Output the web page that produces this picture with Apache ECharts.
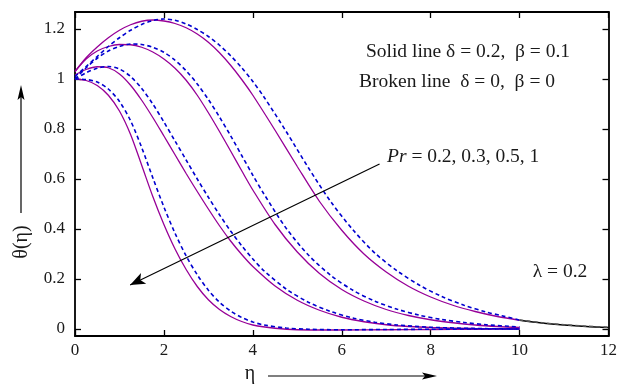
<!DOCTYPE html>
<html>
<head>
<meta charset="utf-8">
<script src="https://cdn.jsdelivr.net/npm/echarts@6/dist/echarts.min.js"></script>
<style>
html,body{margin:0;padding:0;background:#fff;}
#c{width:620px;height:385px;}
</style>
</head>
<body>
<div id="c"></div>
<script>
// ---- data ----
const xTicks = [0, 2, 4, 6, 8, 10, 12];
const yTicks = [0, 0.2, 0.4, 0.6, 0.8, 1, 1.2];

// Pr = 0.2
const prA_solid_x = [0, 0.25, 0.5, 0.75, 1.0, 1.25, 1.5, 1.75, 2.0, 2.25, 2.5, 2.75, 3.0, 3.25, 3.5, 3.75, 4.0, 4.5, 5.0, 5.5, 6.0, 6.5, 7.0, 7.5, 8.0, 8.5, 9.0, 9.5, 10];
const prA_solid_y = [1.03, 1.085, 1.128, 1.165, 1.195, 1.217, 1.231, 1.236, 1.232, 1.222, 1.205, 1.18, 1.147, 1.105, 1.055, 0.998, 0.935, 0.795, 0.65, 0.51, 0.395, 0.30, 0.228, 0.171, 0.128, 0.095, 0.07, 0.05, 0.035];
const prA_dash_x = [0, 0.25, 0.5, 0.75, 1.0, 1.25, 1.5, 1.75, 2.0, 2.25, 2.5, 2.75, 3.0, 3.25, 3.5, 3.75, 4.0, 4.25, 4.75, 5.25, 5.75, 6.25, 6.75, 7.25, 7.75, 8.25, 8.75, 9.25, 9.6, 10];
const prA_dash_y = [1.01, 1.05, 1.09, 1.13, 1.165, 1.195, 1.218, 1.234, 1.24, 1.235, 1.22, 1.198, 1.17, 1.135, 1.093, 1.045, 0.99, 0.928, 0.79, 0.645, 0.51, 0.397, 0.303, 0.232, 0.175, 0.13, 0.095, 0.068, 0.053, 0.036];
const tail_x = [10, 10.5, 11, 11.5, 12];
const tail_solid_y = [0.035, 0.024, 0.016, 0.01, 0.006];
const tail_dash_y = [0.036, 0.025, 0.017, 0.011, 0.007];

// Pr = 0.3
const prB_solid_x = [0, 0.25, 0.5, 0.75, 1.0, 1.25, 1.5, 1.75, 2.0, 2.25, 2.5, 2.75, 3.0, 3.25, 3.5, 3.75, 4.0, 4.5, 5.0, 5.5, 6.0, 6.5, 7.0, 7.5, 8.0, 8.5, 9.0, 9.5, 10];
const prB_solid_y = [1.03, 1.08, 1.112, 1.13, 1.138, 1.137, 1.127, 1.108, 1.08, 1.043, 0.995, 0.935, 0.865, 0.79, 0.712, 0.633, 0.556, 0.418, 0.308, 0.222, 0.158, 0.112, 0.078, 0.054, 0.037, 0.025, 0.016, 0.01, 0.006];
const prB_dash_x = [0, 0.25, 0.5, 0.75, 1.0, 1.25, 1.5, 1.75, 2.0, 2.25, 2.5, 2.75, 3.0, 3.25, 3.5, 3.75, 4.0, 4.25, 4.75, 5.25, 5.75, 6.25, 6.75, 7.25, 7.75, 8.25, 8.75, 9.25, 10];
const prB_dash_y = [1.0, 1.045, 1.083, 1.112, 1.13, 1.14, 1.138, 1.127, 1.107, 1.075, 1.033, 0.98, 0.918, 0.848, 0.773, 0.694, 0.615, 0.54, 0.403, 0.296, 0.215, 0.155, 0.111, 0.079, 0.055, 0.038, 0.026, 0.017, 0.008];

// Pr = 0.5
const prC_solid_x = [0, 0.25, 0.5, 0.75, 1.0, 1.25, 1.5, 1.75, 2.0, 2.25, 2.5, 2.75, 3.0, 3.25, 3.5, 3.75, 4.0, 4.5, 5.0, 5.5, 6.0, 6.5, 7.0, 7.5, 8.0, 9.0, 10];
const prC_solid_y = [1.016, 1.038, 1.049, 1.045, 1.02, 0.975, 0.915, 0.846, 0.772, 0.697, 0.622, 0.55, 0.48, 0.413, 0.352, 0.298, 0.25, 0.172, 0.115, 0.075, 0.047, 0.029, 0.017, 0.01, 0.006, 0.002, 0];
const prC_dash_x = [0, 0.25, 0.5, 0.75, 1.0, 1.25, 1.5, 1.75, 2.0, 2.25, 2.5, 2.75, 3.0, 3.25, 3.5, 3.75, 4.0, 4.25, 4.75, 5.25, 5.75, 6.25, 6.75, 7.25, 8.0, 9.0, 10];
const prC_dash_y = [1.0, 1.025, 1.043, 1.05, 1.04, 1.01, 0.962, 0.9, 0.828, 0.752, 0.676, 0.6, 0.527, 0.457, 0.392, 0.333, 0.28, 0.233, 0.16, 0.107, 0.07, 0.044, 0.027, 0.016, 0.007, 0.002, 0];

// Pr = 1
const prD_solid_x = [0, 0.25, 0.5, 0.75, 1.0, 1.25, 1.5, 1.75, 2.0, 2.25, 2.5, 2.75, 3.0, 3.25, 3.5, 3.75, 4.0, 4.5, 5, 6, 7, 8, 9, 10];
const prD_solid_y = [1.0, 0.994, 0.974, 0.935, 0.872, 0.778, 0.655, 0.53, 0.418, 0.32, 0.238, 0.17, 0.117, 0.078, 0.05, 0.03, 0.016, 0.003, -0.003, -0.004, -0.003, -0.002, -0.001, 0];
const prD_dash_x = [0, 0.25, 0.5, 0.75, 1.0, 1.25, 1.5, 1.75, 2.0, 2.25, 2.5, 2.75, 3.0, 3.25, 3.5, 3.75, 4.0, 4.25, 4.75, 5.25, 6, 7, 8, 9, 10];
const prD_dash_y = [1.0, 0.998, 0.988, 0.96, 0.91, 0.833, 0.726, 0.605, 0.488, 0.383, 0.292, 0.217, 0.155, 0.107, 0.072, 0.046, 0.028, 0.016, 0.004, -0.001, -0.003, -0.002, -0.001, 0, 0];

// annotation arrow (data coordinates)
const prArrowStart = [6.85, 0.66];
const prArrowEnd = [1.24, 0.176];

// ---- chart ----
const zip = (xs, ys) => xs.map((x, i) => [x, ys[i]]);
const FONT = "'Liberation Serif', 'DejaVu Serif', serif";
const PURPLE = '#970097';
const BLUE = '#0000d0';

function solid(name, xs, ys, color) {
  return { name, type: 'line', data: zip(xs, ys), showSymbol: false, smooth: 0.3,
    lineStyle: { color: color || PURPLE, width: 1.3 }, silent: true, z: 2 };
}
function dashed(name, xs, ys, color) {
  return { name, type: 'line', data: zip(xs, ys), showSymbol: false, smooth: 0.3,
    lineStyle: { color: color || BLUE, width: 1.6, type: [4, 3] }, silent: true, z: 3 };
}

const fmt = v => String(Math.round(v * 10) / 10);

const axisCommon = {
  axisLine: { show: true, onZero: false, lineStyle: { color: '#000', width: 1.8 } },
  splitLine: { show: false },
};

const chart = echarts.init(document.getElementById('c'), null, { renderer: 'canvas' });
const seriesD = solid('Pr=1 solid', prD_solid_x, prD_solid_y);
seriesD.markLine = {
  silent: true, animation: false,
  symbol: ['none', 'arrow'], symbolSize: [9, 15],
  lineStyle: { color: '#000', width: 1.2, type: 'solid' },
  label: { show: false },
  emphasis: { disabled: true },
  data: [[{ coord: prArrowStart }, { coord: prArrowEnd }]]
};

const TXT = '19.5px ' + FONT;
const INK = '#1a1a1a';

chart.setOption({
  animation: false,
  backgroundColor: '#fff',
  grid: { left: 75, right: 11, top: 12, bottom: 49 },
  xAxis: [
    Object.assign({}, axisCommon, {
      type: 'value', min: 0, max: 12, interval: 2, position: 'bottom',
      axisTick: { inside: true, length: 6, lineStyle: { color: '#000', width: 1.3 } },
      axisLabel: { fontFamily: FONT, fontSize: 17, color: INK, margin: 6, formatter: fmt }
    }),
    Object.assign({}, axisCommon, {
      type: 'value', min: 0, max: 12, interval: 2, position: 'top',
      axisTick: { inside: true, length: 6, lineStyle: { color: '#000', width: 1.3 } },
      axisLabel: { show: false }
    })
  ],
  yAxis: [
    Object.assign({}, axisCommon, {
      type: 'value', min: -0.028, max: 1.268, position: 'left',
      axisTick: { inside: true, length: 6, customValues: yTicks, lineStyle: { color: '#000', width: 1.3 } },
      axisLabel: { fontFamily: FONT, fontSize: 17, color: INK, margin: 10, customValues: yTicks, formatter: fmt }
    }),
    Object.assign({}, axisCommon, {
      type: 'value', min: -0.028, max: 1.268, position: 'right',
      axisTick: { inside: true, length: 6, customValues: yTicks, lineStyle: { color: '#000', width: 1.3 } },
      axisLabel: { show: false }
    })
  ],
  series: [
    solid('Pr=0.2 solid', prA_solid_x, prA_solid_y),
    solid('Pr=0.3 solid', prB_solid_x, prB_solid_y),
    solid('Pr=0.5 solid', prC_solid_x, prC_solid_y),
    seriesD,
    dashed('Pr=0.2 dashed', prA_dash_x, prA_dash_y),
    dashed('Pr=0.3 dashed', prB_dash_x, prB_dash_y),
    dashed('Pr=0.5 dashed', prC_dash_x, prC_dash_y),
    dashed('Pr=1 dashed', prD_dash_x, prD_dash_y),
    solid('tail solid', tail_x, tail_solid_y, '#000'),
    dashed('tail dashed', tail_x, tail_dash_y, '#555')
  ],
  graphic: [
    { type: 'text', x: 468, y: 52, style: { text: 'Solid line δ = 0.2,  β = 0.1', font: TXT, fill: INK, textAlign: 'center', textVerticalAlign: 'middle' } },
    { type: 'text', x: 457, y: 82, style: { text: 'Broken line  δ = 0,  β = 0', font: TXT, fill: INK, textAlign: 'center', textVerticalAlign: 'middle' } },
    { type: 'text', x: 387, y: 157, style: { text: '{i|Pr} = 0.2, 0.3, 0.5, 1', font: TXT, fill: INK, textVerticalAlign: 'middle',
        rich: { i: { fontFamily: FONT, fontSize: 19.5, fontStyle: 'italic', fill: INK } } } },
    { type: 'text', x: 560, y: 272, style: { text: 'λ = 0.2', font: TXT, fill: INK, textAlign: 'center', textVerticalAlign: 'middle' } },
    // x axis title with arrow
    { type: 'text', x: 250, y: 374, style: { text: 'η', font: '20px ' + FONT, fill: INK, textAlign: 'center', textVerticalAlign: 'middle' } },
    { type: 'line', shape: { x1: 268, y1: 376, x2: 428, y2: 376 }, style: { stroke: '#000', lineWidth: 1.2 } },
    { type: 'polygon', shape: { points: [[437, 376], [422, 372.5], [425, 376], [422, 379.5]] }, style: { fill: '#000' } },
    // y axis title with arrow
    { type: 'text', x: 22, y: 242, rotation: Math.PI / 2, style: { text: 'θ(η)', font: '20px ' + FONT, fill: INK, textAlign: 'center', textVerticalAlign: 'middle' } },
    { type: 'line', shape: { x1: 21, y1: 213, x2: 21, y2: 94 }, style: { stroke: '#000', lineWidth: 1.2 } },
    { type: 'polygon', shape: { points: [[21, 85], [17.5, 100], [21, 97], [24.5, 100]] }, style: { fill: '#000' } }
  ]
});
</script>
</body>
</html>
